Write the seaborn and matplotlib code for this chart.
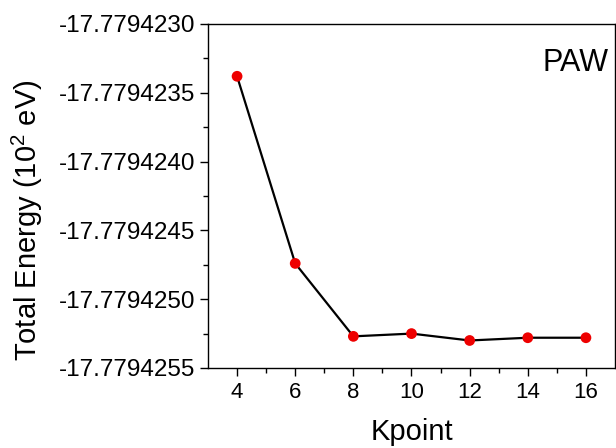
import matplotlib
matplotlib.use("Agg")
import matplotlib.pyplot as plt
import matplotlib.ticker as mticker
import seaborn as sns
import pandas as pd

kpoints = [4, 6, 8, 10, 12, 14, 16]
energy = [-17.77942338, -17.77942474, -17.77942527, -17.77942525,
          -17.77942530, -17.77942528, -17.77942528]
y_ticks = [-17.7794230, -17.7794235, -17.7794240, -17.7794245, -17.7794250, -17.7794255]
x_ticks = [4, 6, 8, 10, 12, 14, 16]

sns.set_theme(style="ticks")
plt.rcParams['font.family'] = ['Liberation Sans', 'DejaVu Sans']
plt.rcParams['mathtext.fontset'] = 'custom'
plt.rcParams['mathtext.rm'] = 'Liberation Sans'
plt.rcParams['mathtext.it'] = 'Liberation Sans:italic'
plt.rcParams['text.color'] = 'black'
plt.rcParams['axes.labelcolor'] = 'black'

df = pd.DataFrame({"Kpoint": kpoints, "E": energy})

fig = plt.figure(figsize=(6.16, 4.48), dpi=100)
ax = fig.add_axes([208/616, 1 - 368/448, (615 - 208)/616, (368 - 24)/448])

sns.lineplot(data=df, x="Kpoint", y="E", color="black", linewidth=1.6, ax=ax, zorder=2)
sns.scatterplot(data=df, x="Kpoint", y="E", color="#ee0000", s=60, edgecolor="none", ax=ax, zorder=3)

ax.set_xlim(3, 17)
ax.set_ylim(-17.7794255, -17.7794230)
ax.set_xticks(x_ticks)
ax.set_yticks(y_ticks)
ax.xaxis.set_minor_locator(mticker.FixedLocator([5, 7, 9, 11, 13, 15]))
ax.yaxis.set_minor_locator(mticker.FixedLocator(
    [-17.77942325, -17.77942375, -17.77942425, -17.77942475, -17.77942525]))
ax.yaxis.set_major_formatter(mticker.FuncFormatter(lambda v, p: "%.7f" % v))

ax.tick_params(axis='both', which='major', direction='out', length=6, width=1,
               colors='black', labelcolor='black')
ax.tick_params(axis='y', which='major', labelsize=17.5, pad=3)
ax.tick_params(axis='x', which='major', labelsize=16, pad=4)
ax.tick_params(axis='both', which='minor', direction='out', length=3.5, width=1, colors='black')
ax.tick_params(top=False, right=False)

for s in ax.spines.values():
    s.set_visible(True)
    s.set_color('black')
    s.set_linewidth(1.0)

ax.set_xlabel("Kpoint", fontsize=21, labelpad=11)
ax.set_ylabel("Total Energy (10$^2$ eV)", fontsize=21)
ax.yaxis.set_label_coords(-0.40, 0.43)
ax.text(0.985, 0.93, "PAW", transform=ax.transAxes, ha="right", va="top", fontsize=22)

fig.savefig("out.png", dpi=100)
